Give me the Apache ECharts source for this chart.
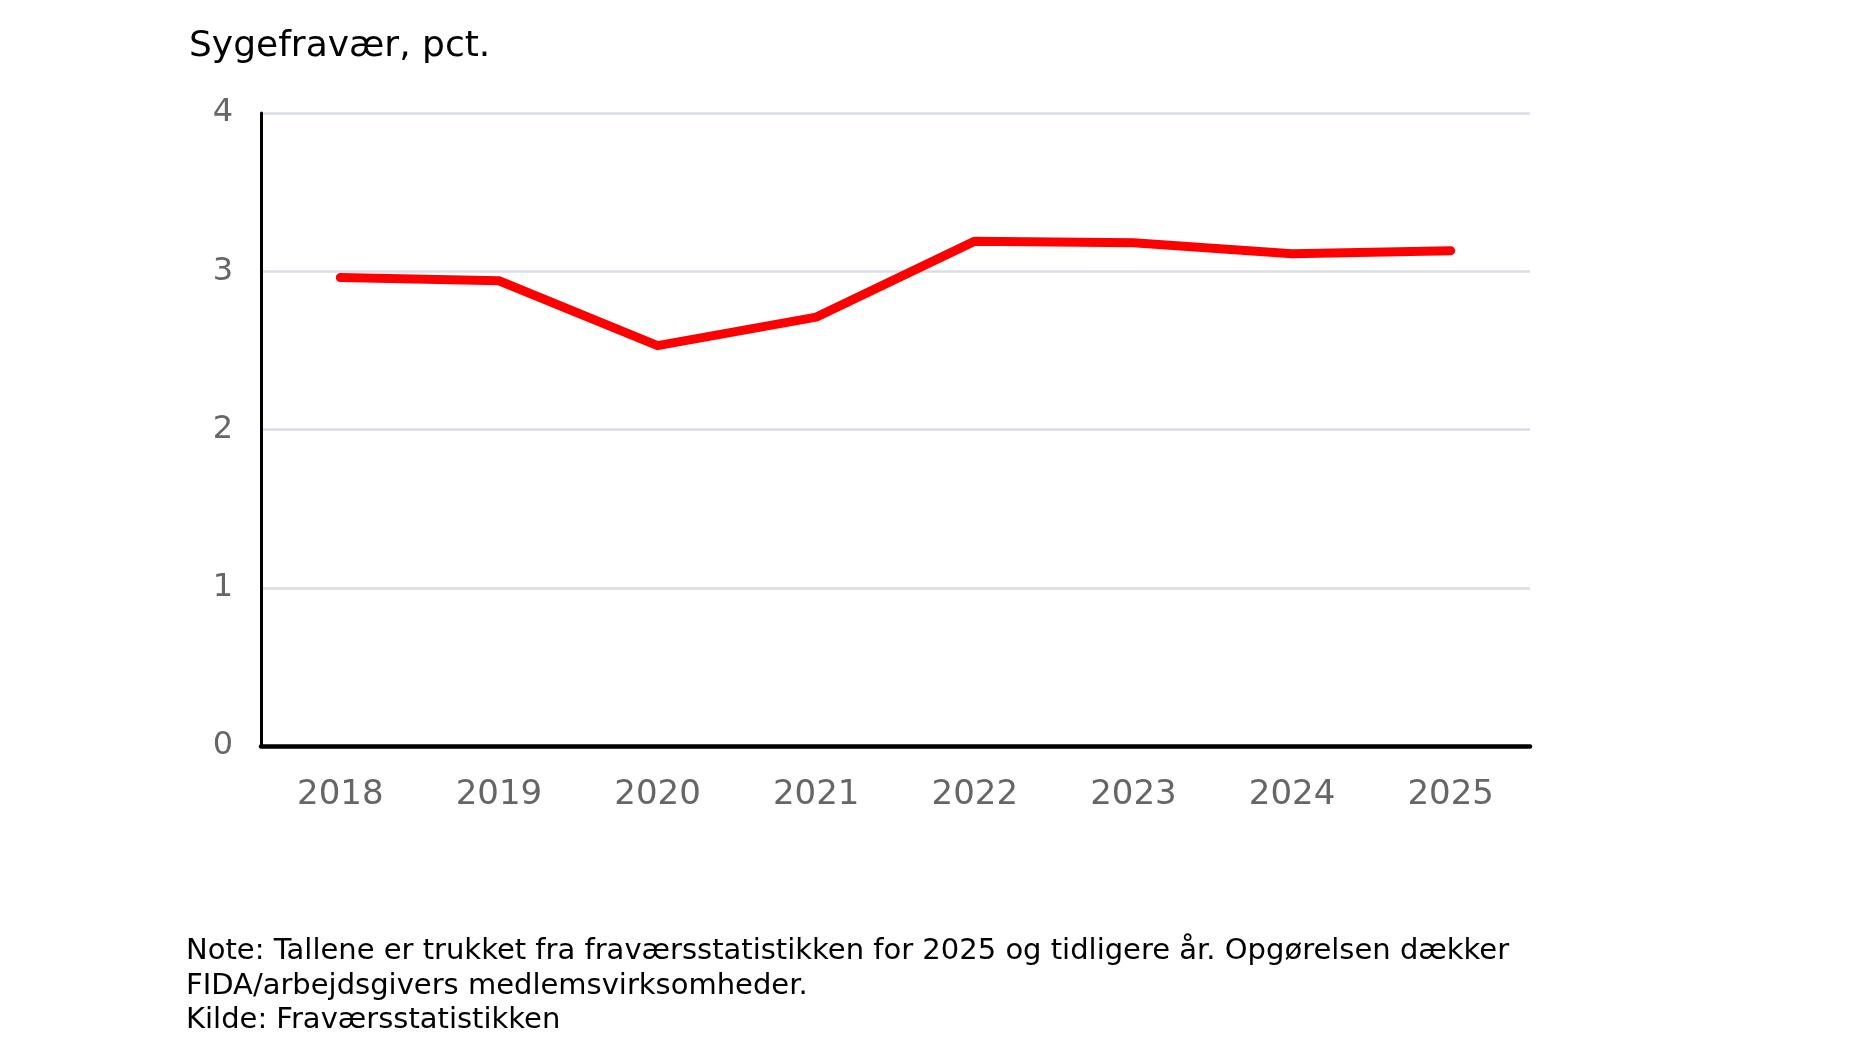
<!DOCTYPE html>
<html>
<head>
<meta charset="utf-8">
<script src="https://cdn.jsdelivr.net/npm/echarts@6/dist/echarts.min.js"></script>
<style>
  html, body { margin: 0; padding: 0; background: #fff; }
  #chart { width: 1862px; height: 1059px; }
</style>
</head>
<body>
<div id="chart"></div>
<script>
// data
var years = ['2018', '2019', '2020', '2021', '2022', '2023', '2024', '2025'];
var sickLeave = [2.96, 2.94, 2.53, 2.71, 3.19, 3.18, 3.11, 3.13];
var titleText = 'Sygefravær, pct.';
var noteLines = [
    'Note: Tallene er trukket fra fraværsstatistikken for 2025 og tidligere år. Opgørelsen dækker',
    'FIDA/arbejdsgivers medlemsvirksomheder.',
    'Kilde: Fraværsstatistikken'
];

var fontName = '"DejaVu Sans", sans-serif';
var myChart = echarts.init(document.getElementById('chart'));

var option = {
    animation: false,
    title: {
        text: titleText,
        left: 184,
        top: 24,
        textStyle: { fontFamily: fontName, fontSize: 36, fontWeight: 'normal', color: '#000' }
    },
    grid: { left: 261, right: 332, top: 113, bottom: 313 },
    xAxis: {
        type: 'category',
        data: years,
        boundaryGap: true,
        axisLine: { lineStyle: { color: '#000', width: 4.5 } },
        axisTick: { show: false },
        axisLabel: { fontFamily: fontName, fontSize: 34, color: '#666', margin: 32 }
    },
    yAxis: {
        type: 'value',
        min: 0,
        max: 4,
        interval: 1,
        axisLine: { show: true, lineStyle: { color: '#000', width: 3 } },
        axisTick: { show: false },
        axisLabel: { fontFamily: fontName, fontSize: 32, color: '#666', margin: 28 },
        splitLine: { lineStyle: { color: '#D9DEE6', width: 2.5 } }
    },
    series: [{
        type: 'line',
        data: sickLeave,
        showSymbol: false,
        lineStyle: { color: '#FF0000', width: 9, cap: 'round', join: 'round' }
    }],
    graphic: noteLines.map(function (t, i) {
        return {
            type: 'text',
            left: 186,
            top: 937 + i * 34.5,
            style: { text: t, fontFamily: fontName, fontSize: 29, fill: '#000' }
        };
    })
};

myChart.setOption(option);
</script>
</body>
</html>
